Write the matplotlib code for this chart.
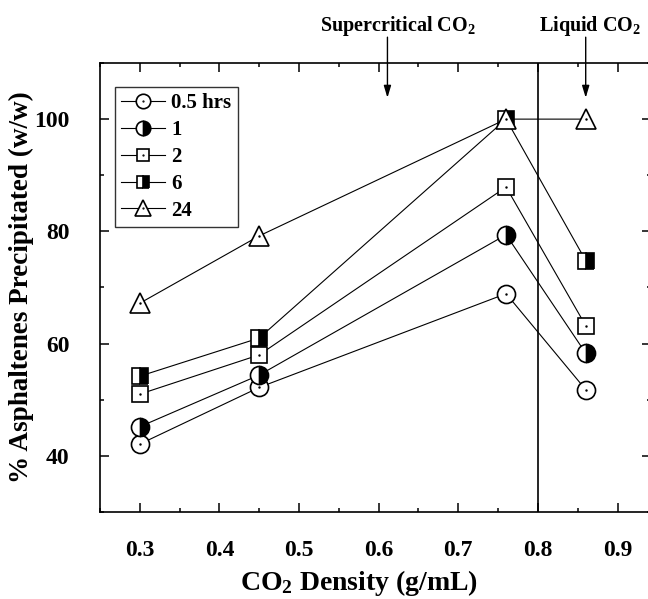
import matplotlib
matplotlib.use("Agg")
import matplotlib.pyplot as plt
from matplotlib.ticker import MultipleLocator
from matplotlib.legend_handler import HandlerTuple

plt.rcParams['font.family'] = ['Liberation Serif', 'DejaVu Serif']
plt.rcParams['font.weight'] = 'bold'
plt.rcParams['axes.labelweight'] = 'bold'
plt.rcParams['mathtext.default'] = 'regular'

density = [0.3, 0.45, 0.76, 0.86]
series_labels = ["0.5 hrs", "1", "2", "6", "24"]
pct_05h = [42.1, 52.2, 68.9, 51.8]
pct_1h = [45.2, 54.4, 79.4, 58.3]
pct_2h = [51.0, 58.0, 87.9, 63.2]
pct_6h = [54.2, 61.0, 100.0, 74.8]
pct_24h = [67.2, 79.2, 100.0, 100.0]
series_values = [pct_05h, pct_1h, pct_2h, pct_6h, pct_24h]

styles = [
    dict(marker='o', ms=13, fillstyle='full', mfc='white', dot=True),
    dict(marker='o', ms=13, fillstyle='right', mfc='black', dot=False),
    dict(marker='s', ms=11.5, fillstyle='full', mfc='white', dot=True),
    dict(marker='s', ms=11.5, fillstyle='right', mfc='black', dot=False),
    dict(marker='^', ms=14, fillstyle='full', mfc='white', dot=True),
]

fig = plt.figure(figsize=(6.48, 5.99), dpi=100)
ax = fig.add_axes([100/648, 87/599, 551/648, 449/599])

handles = []
for vals, st, lab in zip(series_values, styles, series_labels):
    ln, = ax.plot(density, vals, color='black', lw=0.8, marker=st['marker'],
                  ms=st['ms'], fillstyle=st['fillstyle'], mfc=st['mfc'],
                  mfcalt='white', mec='black', mew=1.2, label=lab)
    if st['dot']:
        dt, = ax.plot(density, vals, ls='none', marker='.', ms=1.5, color='black')
        handles.append((ln, dt))
    else:
        handles.append((ln,))

ax.axvline(0.8, color='black', lw=1.2, zorder=1)

ax.set_xlim(0.25, 0.942)
ax.set_ylim(30, 110)
ax.xaxis.set_major_locator(MultipleLocator(0.1))
ax.xaxis.set_minor_locator(MultipleLocator(0.05))
ax.yaxis.set_major_locator(MultipleLocator(20))
ax.yaxis.set_minor_locator(MultipleLocator(10))
ax.tick_params(which='both', direction='in', top=True, right=True, width=1.1,
               labelsize=17)
ax.tick_params(axis='x', which='both', pad=20)
ax.tick_params(axis='y', which='both', pad=22)
ax.tick_params(which='major', length=6.5)
ax.tick_params(which='minor', length=3)
for sp in ax.spines.values():
    sp.set_linewidth(1.2)

ax.set_xlabel(r'CO$_2$ Density (g/mL)', fontsize=20, labelpad=2)
ax.xaxis.set_label_coords(0.47, -0.125)
ax.set_ylabel('% Asphaltenes Precipitated (w/w)', fontsize=19.5, labelpad=0)

for xa in [0.611, 0.86]:
    ax.annotate('', xy=(xa, 103.8), xytext=(xa, 114.6), annotation_clip=False,
                arrowprops=dict(arrowstyle='-|>,head_length=0.6,head_width=0.18',
                                color='black', lw=1.0, mutation_scale=12,
                                shrinkA=0, shrinkB=0))
ax.text(0.624, 116.6, r'Supercritical CO$_2$', ha='center', va='center',
        fontsize=14.5, clip_on=False)
ax.text(0.866, 116.6, r'Liquid CO$_2$', ha='center', va='center',
        fontsize=14.5, clip_on=False)

leg = ax.legend(handles, series_labels, handler_map={tuple: HandlerTuple(ndivide=1)},
                loc='upper left', bbox_to_anchor=(0.027, 0.9465), borderaxespad=0,
                fontsize=15, frameon=True, fancybox=False, edgecolor='black',
                handlelength=2.1, handletextpad=0.3, labelspacing=0.33,
                borderpad=0.3, markerscale=0.8)
leg.get_frame().set_linewidth(1.0)

fig.savefig('out.png', dpi=100)
